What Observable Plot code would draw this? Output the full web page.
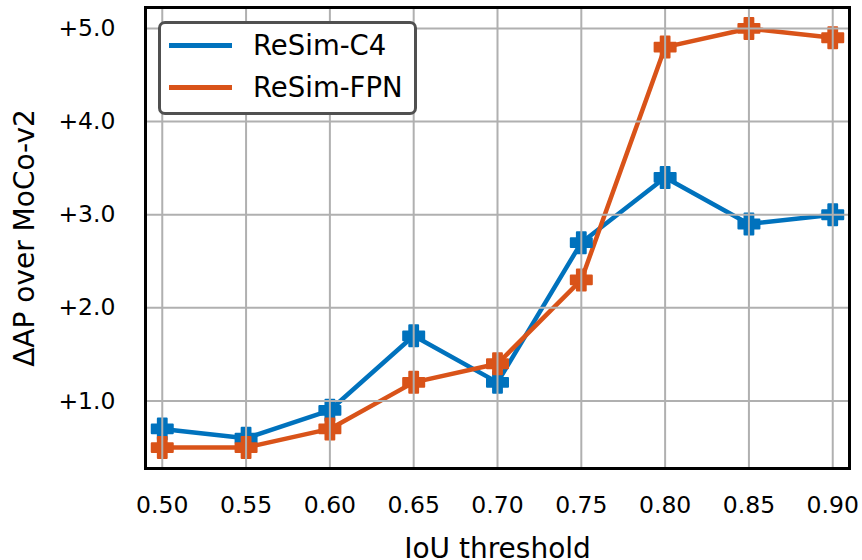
<!DOCTYPE html>
<html>
<head>
<meta charset="utf-8">
<script src="https://cdn.jsdelivr.net/npm/d3@7"></script>
<script src="https://cdn.jsdelivr.net/npm/@observablehq/plot@0.6"></script>
<style>
  html, body { margin: 0; padding: 0; background: white; }
  #wrap { position: relative; width: 862px; height: 560px; font-family: "DejaVu Sans", sans-serif; }
  #legend { position: absolute; left: 158px; top: 21px; width: 253px; height: 88px;
    border: 3px solid #505050; border-radius: 7px; background: white; box-sizing: content-box; }
  .item { position: absolute; left: 0; height: 30px; font-size: 27.5px; color: black; }
  .item .sw { position: absolute; left: 8px; width: 63px; height: 4.5px; top: 13px; }
  .item .lb { position: absolute; left: 92px; top: 0; white-space: nowrap; line-height: 30px; }
</style>
</head>
<body>
<div id="wrap">
  <div id="chart"></div>
  <div id="legend"></div>
</div>
<script>
const thresholds = [0.50, 0.55, 0.60, 0.65, 0.70, 0.75, 0.80, 0.85, 0.90];
const c4 = [0.7, 0.6, 0.9, 1.7, 1.2, 2.7, 3.4, 2.9, 3.0];
const fpn = [0.5, 0.5, 0.7, 1.2, 1.4, 2.3, 4.8, 5.0, 4.9];
const seriesNames = ["ReSim-C4", "ReSim-FPN"];
const seriesColors = ["#0072BD", "#D95319"];
const yTicks = [1, 2, 3, 4, 5];

const data = [];
thresholds.forEach((t, i) => {
  data.push({x: t, y: c4[i], s: seriesNames[0]});
  data.push({x: t, y: fpn[i], s: seriesNames[1]});
});

// filled plus symbol
const thickPlus = {
  draw(context, size) {
    const r = Math.sqrt(size / Math.PI);
    const a = r * 0.42;
    context.moveTo(-a, -r);
    context.lineTo(a, -r);
    context.lineTo(a, -a);
    context.lineTo(r, -a);
    context.lineTo(r, a);
    context.lineTo(a, a);
    context.lineTo(a, r);
    context.lineTo(-a, r);
    context.lineTo(-a, a);
    context.lineTo(-r, a);
    context.lineTo(-r, -a);
    context.lineTo(-a, -a);
    context.closePath();
  }
};

const color = {domain: seriesNames, range: seriesColors};

const chart = Plot.plot({
  width: 862,
  height: 560,
  marginLeft: 145,
  marginRight: 13,
  marginTop: 7,
  marginBottom: 92,
  style: {fontFamily: "DejaVu Sans, sans-serif", background: "white", color: "black"},
  x: {domain: [0.49, 0.91]},
  y: {domain: [0.275, 5.225]},
  color,
  marks: [
    Plot.line(data, {x: "x", y: "y", z: "s", stroke: "s", strokeWidth: 4.5, strokeLinejoin: "round"}),
    Plot.dot(data, {x: "x", y: "y", fill: "s", stroke: "s", strokeWidth: 2, strokeLinejoin: "round", symbol: thickPlus, r: 10.5}),
    Plot.gridX(thresholds, {stroke: "#b0b0b0", strokeOpacity: 1, strokeWidth: 2}),
    Plot.gridY(yTicks, {stroke: "#b0b0b0", strokeOpacity: 1, strokeWidth: 2}),
    Plot.axisX(thresholds, {tickSize: 0, tickPadding: 28, fontSize: 23.5, tickFormat: d3.format(".2f"), label: null}),
    Plot.axisY(yTicks, {tickSize: 0, tickPadding: 30, fontSize: 23.5, tickFormat: d => "+" + d.toFixed(1), label: null}),
    Plot.text(["IoU threshold"], {frameAnchor: "bottom", dy: 70, lineAnchor: "top", textAnchor: "middle", fontSize: 28, fill: "black"}),
    Plot.text(["ΔAP over MoCo-v2"], {frameAnchor: "left", dx: -120, rotate: -90, textAnchor: "middle", fontSize: 28, fill: "black"}),
    Plot.frame({stroke: "black", strokeWidth: 3})
  ]
});
document.getElementById("chart").appendChild(chart);

const legend = document.getElementById("legend");
seriesNames.forEach((name, i) => {
  const it = document.createElement("div");
  it.className = "item";
  it.style.top = (6 + i * 42) + "px";
  it.innerHTML = `<div class="sw" style="background:${seriesColors[i]}"></div><div class="lb">${name}</div>`;
  legend.appendChild(it);
});
</script>
</body>
</html>
